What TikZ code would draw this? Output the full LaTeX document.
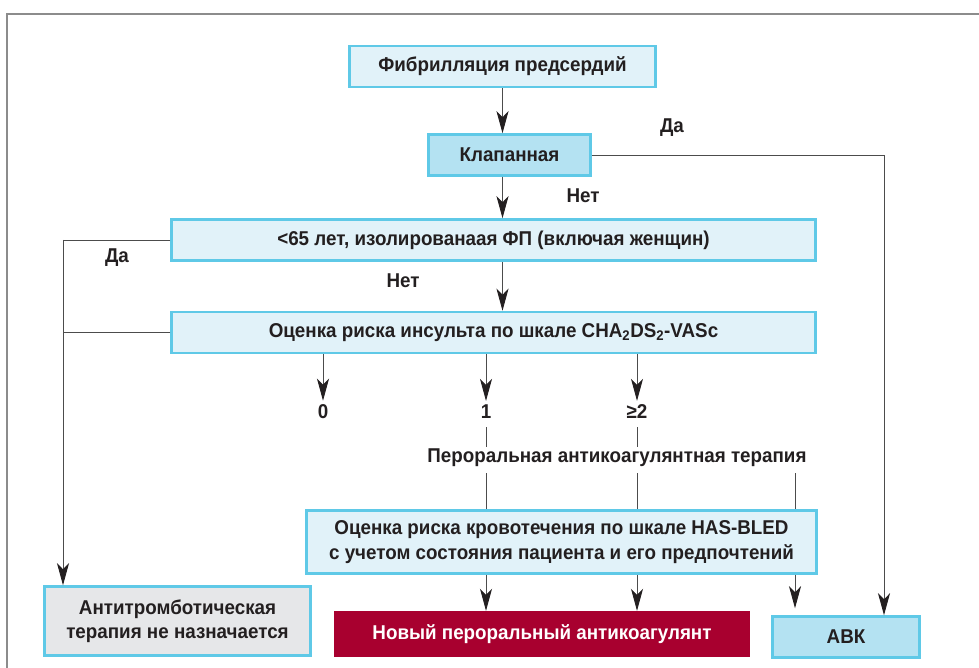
\documentclass[tikz,border=0pt]{standalone}
\usepackage{fontspec}
\setmainfont{Liberation Sans}[FakeStretch=0.94]
\usepackage{xcolor}
\usetikzlibrary{arrows.meta}
\definecolor{boxline}{HTML}{5FC9E7}
\definecolor{palefill}{HTML}{E1F2F9}
\definecolor{midfill}{HTML}{B4E2F2}
\definecolor{winered}{HTML}{A8002F}
\definecolor{greyfill}{HTML}{E6E7E9}
\definecolor{inkblack}{HTML}{231F20}
\tikzset{
    flow-box/.style = {draw=boxline, fill=palefill, line width=2.5pt, rectangle, align=center, text=inkblack, font=\fontsize{20}{24.5}\selectfont\bfseries},
    flow-box-mid/.style = {flow-box, fill=midfill},
    flow-box-grey/.style = {flow-box, fill=greyfill},
    flow-box-red/.style = {rectangle, fill=winered, text=white, font=\fontsize{20}{24.5}\selectfont\bfseries},
    flow-label/.style = {text=inkblack, font=\fontsize{20}{24.5}\selectfont\bfseries, inner sep=2pt},
    flow-line/.style = {draw=black!70, line width=0.9pt},
    flow-arrow/.style = {flow-line, -{Stealth[length=22pt, width=12pt, inset=6pt, inkblack]}},
}

\begin{document}
\begin{tikzpicture}[x=1pt, y=-1pt]
\useasboundingbox (0,0) rectangle (979,668);
\draw[black!45, line width=1.5pt] (7,668) -- (7,14) -- (979,14);

% boxes
\node[flow-box, minimum width=306pt, minimum height=41pt] (fib) at (502.5,66.5) {Фибрилляция предсердий};
\node[flow-box-mid, minimum width=162pt, minimum height=41pt] (klap) at (509.5,155) {Клапанная};
\node[flow-box, minimum width=644pt, minimum height=41pt] (lt) at (493.5,240) {<65 лет, изолированаая ФП (включая женщин)};
\node[flow-box, minimum width=644pt, minimum height=41pt] (cha) at (493.5,332.5) {Оценка риска инсульта по шкале CHA\textsubscript{2}DS\textsubscript{2}-VASc};
\node[flow-box, minimum width=510pt, minimum height=63pt] (bled) at (561.5,542) {Оценка риска кровотечения по шкале HAS-BLED\\с учетом состояния пациента и его предпочтений};
\node[flow-box-grey, minimum width=266pt, minimum height=69pt] (anti) at (177.5,621) {Антитромботическая\\терапия не назначается};
\node[flow-box-red, minimum width=416pt, minimum height=46pt] (nov) at (542,634) {Новый пероральный антикоагулянт};
\node[flow-box-mid, minimum width=147pt, minimum height=41pt] (abk) at (846,637) {АВК};

% labels
\node[flow-label] (da1) at (672,128) {Да};
\node[flow-label] (net1) at (583,196) {Нет};
\node[flow-label] (net2) at (403,281) {Нет};
\node[flow-label] (da2) at (117,258) {Да};
\node[flow-label] (s0) at (323,412) {0};
\node[flow-label] (s1) at (486,412) {1};
\node[flow-label] (s2) at (637,412) {≥2};
\node[flow-label] (oat) at (617,458) {Пероральная антикоагулянтная терапия};

\coordinate (rail) at (63,0);
\coordinate (vka) at (795,0);

% connectors
\draw[flow-arrow] (fib.south) -- (fib.south |- klap.north);
\draw[flow-arrow] (fib.south |- klap.south) -- (fib.south |- lt.north);
\draw[flow-arrow] (fib.south |- lt.south) -- (fib.south |- cha.north);
\draw[flow-arrow] (klap.east) -| ([xshift=38pt]abk.north);
\draw[flow-line] (lt.west) -- (lt.west -| rail);
\draw[flow-line] (cha.west) -- (cha.west -| rail);
\draw[flow-arrow] (lt.west -| rail) -- (rail |- anti.north);
\draw[flow-arrow] (cha.south -| s0) -- ([yshift=2pt]s0.north);
\draw[flow-arrow] (cha.south -| s1) -- ([yshift=2pt]s1.north);
\draw[flow-arrow] (cha.south -| s2) -- ([yshift=2pt]s2.north);
\draw[flow-line, shorten <=6pt] (s1.south) -- (s1 |- oat.north);
\draw[flow-line, shorten <=6pt] (s2.south) -- (s2 |- oat.north);
\draw[flow-line, shorten <=4pt] (oat.south -| s1) -- (bled.north -| s1);
\draw[flow-line, shorten <=4pt] (oat.south -| s2) -- (bled.north -| s2);
\draw[flow-line, shorten <=4pt] (oat.south -| vka) -- (bled.north -| vka);
\draw[flow-arrow] (bled.south -| s1) -- (nov.north -| s1);
\draw[flow-arrow] (bled.south -| s2) -- (nov.north -| s2);
\draw[flow-arrow, shorten >=7pt] (bled.south -| vka) -- (abk.north -| vka);
\end{tikzpicture}
\end{document}
